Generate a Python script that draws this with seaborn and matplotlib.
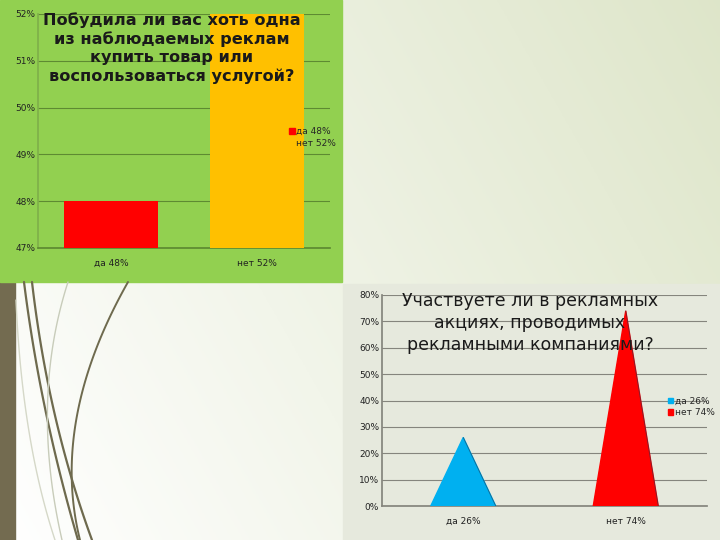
import matplotlib
matplotlib.use('Agg')
import matplotlib.pyplot as plt
import matplotlib.patches as mpatches
import numpy as np
import pandas as pd
import seaborn as sns

# Data
buy_labels = ['да 48%', 'нет 52%']
buy_values = [48, 52]
buy_colors = ['#FF0000', '#FFC000']
buy_ticks = [47, 48, 49, 50, 51, 52]
buy_title = 'Побудила ли вас хоть одна\nиз наблюдаемых реклам\nкупить товар или\nвоспользоваться услугой?'

promo_labels = ['да 26%', 'нет 74%']
promo_values = [26, 74]
promo_colors = ['#00B0F0', '#FF0000']
promo_ticks = [0, 10, 20, 30, 40, 50, 60, 70, 80]
promo_title = 'Участвуете ли в рекламных\nакциях, проводимых\nрекламными компаниями?'

sns.set_theme(style='white')
plt.rcParams['font.family'] = ['DejaVu Sans']

W, H = 720, 540
fig = plt.figure(figsize=(7.2, 5.4), dpi=100)

# Slide background (decoration)
bg = fig.add_axes([0, 0, 1, 1])
bg.set_xlim(0, W)
bg.set_ylim(H, 0)
bg.axis('off')
grad = np.linspace(0, 1, 200)
gx, gy = np.meshgrid(grad, grad)
g = np.clip(0.7 * gx + 0.3 * (1 - gy), 0, 1)
c0 = np.array([1.0, 1.0, 1.0])
c1 = np.array([0.87, 0.90, 0.79])
img = c0[None, None, :] * (1 - g[..., None]) + c1[None, None, :] * g[..., None]
bg.imshow(img, extent=[0, W, H, 0], aspect='auto', zorder=0)
bg.add_patch(mpatches.Rectangle((0, 282), 15, 258, color='#736B50', zorder=1))
bg.add_patch(mpatches.Rectangle((0, 0), 342, 282, color='#92D050', zorder=2))
bg.add_patch(mpatches.Rectangle((343, 284), 377, 256, color='#E6E9DD', zorder=2))


def bez(p0, p1, p2, n=60):
    t = np.linspace(0, 1, n)[:, None]
    return (1 - t) ** 2 * np.array(p0) + 2 * (1 - t) * t * np.array(p1) + t ** 2 * np.array(p2)


for (p0, p1, p2), col, lw in [
    (((24, 282), (40, 410), (78, 540)), '#6E6A4E', 1.6),
    (((32, 282), (48, 420), (92, 540)), '#6E6A4E', 1.6),
    (((128, 282), (50, 420), (80, 540)), '#6E6A4E', 1.4),
    (((68, 282), (30, 400), (62, 540)), '#C8CCBA', 1.0),
    (((16, 300), (22, 440), (55, 540)), '#D5D8C8', 1.0),
]:
    pts = bez(p0, p1, p2)
    bg.plot(pts[:, 0], pts[:, 1], color=col, lw=lw, zorder=3)


def frac(x0, y0, x1, y1):
    return [x0 / W, 1 - y1 / H, (x1 - x0) / W, (y1 - y0) / H]


# Top chart: bars
ax1 = fig.add_axes(frac(38, 14, 330, 248))
ax1.patch.set_alpha(0)
df_buy = pd.DataFrame({'label': buy_labels, 'value': buy_values})
sns.barplot(data=df_buy, x='label', y='value', hue='label', palette=buy_colors,
            saturation=1, width=0.65, linewidth=0, legend=False, ax=ax1, zorder=3)
ax1.set_ylim(buy_ticks[0], buy_ticks[-1])
ax1.set_xlim(-0.5, 1.5)
ax1.set_yticks(buy_ticks)
ax1.set_yticklabels([f'{t}%' for t in buy_ticks])
ax1.yaxis.grid(True, color='#5E8A32', lw=0.8, zorder=1)
ax1.set_axisbelow(True)
for s in ['top', 'right']:
    ax1.spines[s].set_visible(False)
ax1.spines['left'].set_color('#7FB04A')
ax1.spines['bottom'].set_color('#5E8A32')
ax1.tick_params(axis='y', labelsize=6.5, pad=2, length=0, colors='#222222')
ax1.tick_params(axis='x', labelsize=6.5, pad=8, length=0, colors='#222222')
ax1.set_xlabel('')
ax1.set_ylabel('')
h1 = [mpatches.Patch(color=c, label=l) for c, l in zip(buy_colors, buy_labels)]
ax1.legend(handles=h1, loc='upper left', bbox_to_anchor=(0.845, 0.535), frameon=False,
           fontsize=6.5, handlelength=0.6, handleheight=0.6, handletextpad=0.2,
           labelspacing=0.3, borderpad=0)
fig.text(172 / W, 1 - 12 / H, buy_title, ha='center', va='top', fontsize=11.6,
         fontweight='bold', color='#1A1A1A', linespacing=1.27, zorder=10)

# Bottom chart: triangles
ax2 = fig.add_axes(frac(382, 295, 707, 506))
ax2.patch.set_alpha(0)
xpos = np.arange(len(promo_values))
half = 0.2
for x, v, c in zip(xpos, promo_values, promo_colors):
    ax2.fill([x - half, x, x + half], [0, v, 0], color=c, zorder=3)
    ax2.plot([x, x + half], [v, 0], color='#1F3550', lw=0.6, alpha=0.6, zorder=4)
ax2.set_xlim(-0.5, 1.5)
ax2.set_ylim(promo_ticks[0], promo_ticks[-1])
ax2.set_xticks(xpos)
ax2.set_xticklabels(promo_labels)
ax2.set_yticks(promo_ticks)
ax2.set_yticklabels([f'{t}%' for t in promo_ticks])
ax2.yaxis.grid(True, color='#85857D', lw=0.8, zorder=1)
ax2.set_axisbelow(True)
for s in ['top', 'right']:
    ax2.spines[s].set_visible(False)
ax2.spines['left'].set_color('#85857D')
ax2.spines['bottom'].set_color('#85857D')
ax2.tick_params(axis='y', labelsize=6.5, pad=2, length=0, colors='#222222')
ax2.tick_params(axis='x', labelsize=6.5, pad=8, length=0, colors='#222222')
h2 = [mpatches.Patch(color=c, label=l) for c, l in zip(promo_colors, promo_labels)]
ax2.legend(handles=h2, loc='upper left', bbox_to_anchor=(0.865, 0.54), frameon=False,
           fontsize=6.5, handlelength=0.6, handleheight=0.6, handletextpad=0.2,
           labelspacing=0.3, borderpad=0)
fig.text(530 / W, 1 - 292 / H, promo_title, ha='center', va='top', fontsize=12.5,
         fontweight='normal', color='#1A1A1A', linespacing=1.27, zorder=10)

fig.savefig('out.png', dpi=100)
